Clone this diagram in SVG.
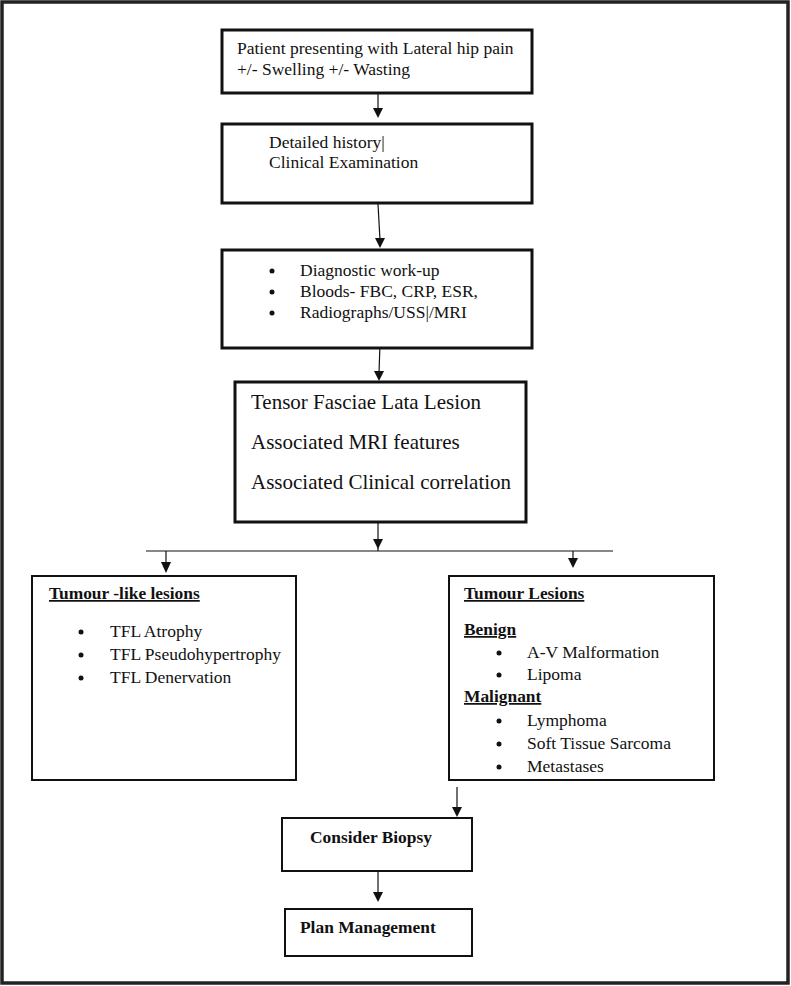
<svg xmlns="http://www.w3.org/2000/svg" width="791" height="986" viewBox="0 0 791 986">
<defs>
<style>
text{font-family:"Liberation Serif","Times New Roman",serif;fill:#111;}
.t16{font-size:17.5px;}
.t20{font-size:21px;}
.b{font-weight:bold;font-size:17.4px;}
.u{text-decoration:underline;}
.box3{fill:#fff;stroke:#111;stroke-width:3;}
.box2{fill:#fff;stroke:#111;stroke-width:2;}
.con{stroke:#111;stroke-width:1.2;fill:none;}
.dot{fill:#111;}
.ah{fill:#111;}
</style>
</defs>
<rect x="0" y="0" width="791" height="986" fill="#fff"/>
<rect x="2" y="2" width="786" height="981" fill="none" stroke="#222" stroke-width="3.5"/>

<g id="connectors">
<line class="con" x1="378" y1="93" x2="378" y2="110"/>
<path class="ah" d="M373,108 L383,108 L378,118 Z"/>
<line class="con" x1="378" y1="204" x2="380" y2="240"/>
<path class="ah" d="M375,238 L385,238 L380,248 Z"/>
<line class="con" x1="380" y1="344" x2="379" y2="373"/>
<path class="ah" d="M374,371 L384,371 L379,381 Z"/>
<line class="con" x1="378" y1="522" x2="378" y2="551"/>
<path class="ah" d="M373,539 L383,539 L378,549 Z"/>
<line class="con" x1="146" y1="551" x2="613" y2="551"/>
<line class="con" x1="166" y1="551" x2="166" y2="564"/>
<path class="ah" d="M161,562 L171,562 L166,573 Z"/>
<line class="con" x1="573" y1="551" x2="573" y2="560"/>
<path class="ah" d="M568,558 L578,558 L573,568 Z"/>
<line class="con" x1="457" y1="787" x2="457" y2="809"/>
<path class="ah" d="M452,807 L462,807 L457,817 Z"/>
<line class="con" x1="378" y1="871" x2="378" y2="894"/>
<path class="ah" d="M373,892 L383,892 L378,902 Z"/>
</g>

<g id="n1">
<rect class="box3" x="222" y="30" width="310" height="63"/>
<text class="t16" x="237" y="54">Patient presenting with Lateral hip pain</text>
<text class="t16" x="237" y="75">+/- Swelling +/- Wasting</text>
</g>

<g id="n2">
<rect class="box3" x="222" y="124" width="310" height="79"/>
<text class="t16" x="269" y="148">Detailed history|</text>
<text class="t16" x="269" y="168">Clinical Examination</text>
</g>

<g id="n3">
<rect class="box3" x="222" y="250" width="310" height="98"/>
<circle class="dot" cx="272" cy="271" r="2.5"/>
<circle class="dot" cx="272" cy="292" r="2.5"/>
<circle class="dot" cx="272" cy="313" r="2.5"/>
<text class="t16" x="300" y="276">Diagnostic work-up</text>
<text class="t16" x="300" y="297">Bloods- FBC, CRP, ESR,</text>
<text class="t16" x="300" y="318">Radiographs/USS|/MRI</text>
</g>

<g id="n4">
<rect class="box3" x="235" y="382" width="291" height="140"/>
<text class="t20" x="251" y="409">Tensor Fasciae Lata Lesion</text>
<text class="t20" x="251" y="449">Associated MRI features</text>
<text class="t20" x="251" y="489">Associated Clinical correlation</text>
</g>

<g id="n5">
<rect class="box2" x="32" y="576" width="264" height="204"/>
<text class="b u" x="49" y="599">Tumour -like lesions</text>
<circle class="dot" cx="81" cy="632" r="2.5"/>
<circle class="dot" cx="81" cy="655" r="2.5"/>
<circle class="dot" cx="81" cy="678" r="2.5"/>
<text class="t16" x="110" y="637">TFL Atrophy</text>
<text class="t16" x="110" y="660">TFL Pseudohypertrophy</text>
<text class="t16" x="110" y="683">TFL Denervation</text>
</g>

<g id="n6">
<rect class="box2" x="449" y="576" width="265" height="204"/>
<text class="b u" x="464" y="599">Tumour Lesions</text>
<text class="b u" x="464" y="635">Benign</text>
<circle class="dot" cx="499" cy="653" r="2.5"/>
<circle class="dot" cx="499" cy="675" r="2.5"/>
<text class="t16" x="527" y="658">A-V Malformation</text>
<text class="t16" x="527" y="680">Lipoma</text>
<text class="b u" x="464" y="702">Malignant</text>
<circle class="dot" cx="499" cy="721" r="2.5"/>
<circle class="dot" cx="499" cy="744" r="2.5"/>
<circle class="dot" cx="499" cy="767" r="2.5"/>
<text class="t16" x="527" y="726">Lymphoma</text>
<text class="t16" x="527" y="749">Soft Tissue Sarcoma</text>
<text class="t16" x="527" y="772">Metastases</text>
</g>

<g id="n7">
<rect class="box2" x="282" y="818" width="190" height="53"/>
<text class="b" x="310" y="843">Consider Biopsy</text>
</g>

<g id="n8">
<rect class="box2" x="285" y="909" width="187" height="47"/>
<text class="b" x="300" y="933">Plan Management</text>
</g>
</svg>
